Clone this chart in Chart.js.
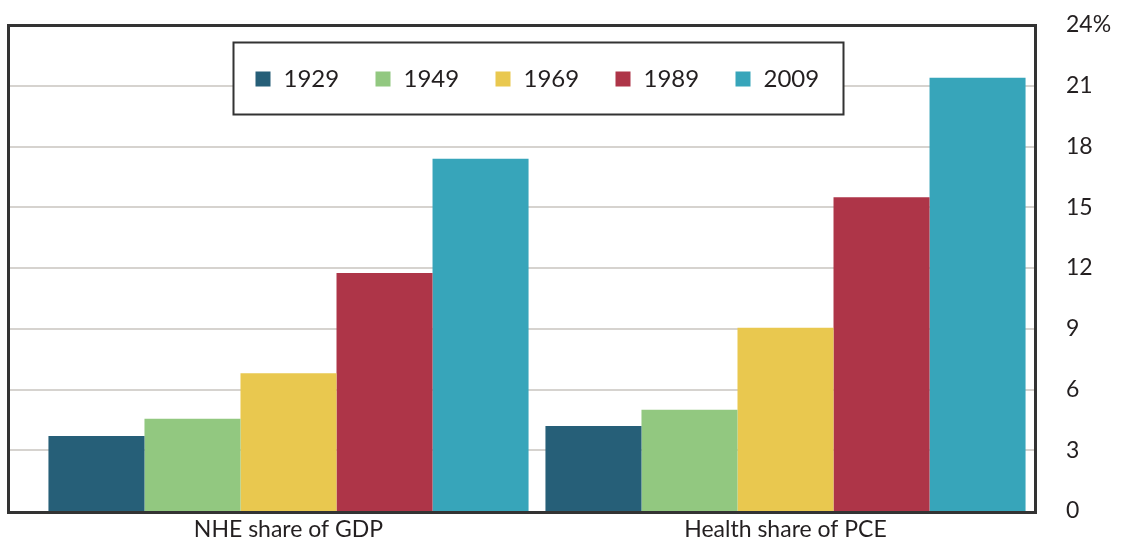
<!DOCTYPE html>
<html>
<head>
<meta charset="utf-8">
<script src="https://cdn.jsdelivr.net/npm/chart.js@4"></script>
<style>
  html, body { margin: 0; padding: 0; background: #fff; }
  #wrap { width: 1144px; height: 541px; position: relative; }
</style>
</head>
<body>
<div id="wrap"><canvas id="healthChart"></canvas></div>
<script>
const categories = ["NHE share of GDP", "Health share of PCE"];
const years = ["1929", "1949", "1969", "1989", "2009"];
const share1929 = [3.7, 4.2];
const share1949 = [4.55, 5.0];
const share1969 = [6.8, 9.05];
const share1989 = [11.75, 15.5];
const share2009 = [17.4, 21.4];
const yTicks = [0, 3, 6, 9, 12, 15, 18, 21, 24];
const colors = ["#265f78", "#92c880", "#e9c84f", "#ae3548", "#37a5ba"];

document.addEventListener("DOMContentLoaded", function () {
  const seriesValues = [share1929, share1949, share1969, share1989, share2009];
  const textColor = "#231f20";

  // grid lines run across the whole framed box, not just the chart area
  const framePlugin = {
    id: "frame",
    beforeDatasetsDraw(chart) {
      const ctx = chart.ctx;
      const area = chart.chartArea;
      const y = chart.scales.y;
      const left = area.left - 32;
      const right = area.right + 2;
      ctx.save();
      ctx.strokeStyle = "#d6d3cf";
      ctx.lineWidth = 2;
      yTicks.slice(1, -1).forEach(function (t) {
        const py = Math.round(y.getPixelForValue(t));
        ctx.beginPath();
        ctx.moveTo(left, py);
        ctx.lineTo(right, py);
        ctx.stroke();
      });
      ctx.restore();
    },
    afterDatasetsDraw(chart) {
      const ctx = chart.ctx;
      const area = chart.chartArea;
      ctx.save();
      // outer box
      ctx.strokeStyle = "#333";
      ctx.lineWidth = 3;
      ctx.strokeRect(area.left - 31.5, area.top + 0.5, area.right - area.left + 33, area.bottom - area.top + 1);

      // legend box
      const lx = area.left + 193.5;
      const ly = area.top + 17.5;
      ctx.fillStyle = "#fff";
      ctx.fillRect(lx, ly, 610, 72);
      ctx.lineWidth = 2;
      ctx.strokeStyle = "#333";
      ctx.strokeRect(lx, ly, 610, 72);
      ctx.font = "24px Lato";
      ctx.textBaseline = "middle";
      chart.data.datasets.forEach(function (ds, i) {
        const x = lx + 22 + i * 120;
        ctx.fillStyle = ds.backgroundColor;
        ctx.fillRect(x, ly + 29, 15, 15);
        ctx.fillStyle = textColor;
        ctx.fillText(ds.label, x + 28, ly + 37);
      });
      ctx.restore();
    },
  };

  new Chart(document.getElementById("healthChart").getContext("2d"), {
    type: "bar",
    data: {
      labels: categories,
      datasets: years.map(function (yr, i) {
        return {
          label: yr,
          data: seriesValues[i],
          backgroundColor: colors[i],
          borderWidth: 0,
          barPercentage: 1,
          categoryPercentage: 0.966,
        };
      }),
    },
    options: {
      responsive: true,
      maintainAspectRatio: false,
      animation: false,
      layout: { padding: { top: 25, left: 40, right: 0, bottom: 0 } },
      plugins: {
        legend: { display: false },
        tooltip: { enabled: false },
      },
      scales: {
        x: {
          grid: { display: false, drawTicks: false },
          border: { display: false },
          ticks: {
            color: textColor,
            font: { family: "Lato", size: 23 },
            padding: 5,
          },
          afterFit(scale) { scale.height = 30; },
        },
        y: {
          position: "right",
          min: 0,
          max: 24,
          afterBuildTicks(scale) {
            scale.ticks = yTicks.map(function (v) { return { value: v }; });
          },
          grid: { display: false, drawTicks: false },
          border: { display: false },
          ticks: {
            color: textColor,
            font: { family: "Lato", size: 23 },
            padding: 32,
            callback: function (v) { return v === 24 ? v + "%" : v; },
          },
          afterFit(scale) {
            scale.width = 110;
            scale.paddingTop = 0;
            scale.paddingBottom = 0;
          },
        },
      },
    },
    plugins: [framePlugin],
  });
});
</script>
</body>
</html>
